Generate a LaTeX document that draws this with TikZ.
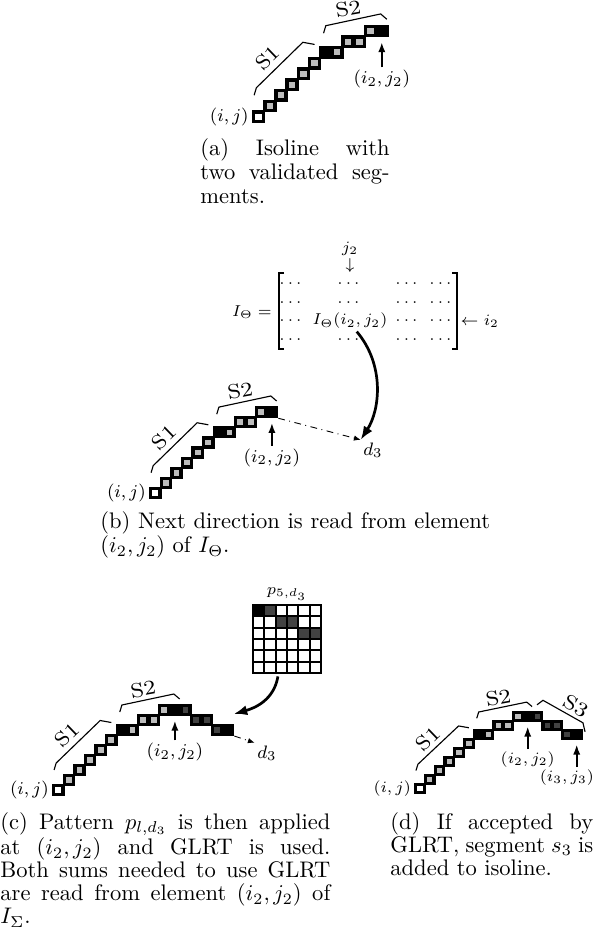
\documentclass[tikz,border=0pt]{standalone}
\usepackage{amsmath}
\usetikzlibrary{arrows.meta,positioning}

\colorlet{litecell}{black!26}
\colorlet{darkcell}{black!74}

% isoline with the two validated segments, in cell units
\newcommand\isobase{%
  \foreach \c/\r/\col in {0/0/white, 1/1/litecell, 2/2/litecell, 3/3/litecell,
      4/4/litecell, 5/5/litecell, 6/6/black, 7/6/litecell, 8/7/litecell,
      9/7/litecell, 10/8/litecell, 11/8/black}
    {\fill (\c-.1,\r-.1) rectangle ++(1.2,1.2);
     \fill[\col] (\c+.22,\r+.22) rectangle ++(.56,.56);}
  \draw[segline] (0.1,2.5) -- (0.3,3.2) -- (4.45,7.45) -- (5.5,7.25);
  \node[rotate=44, seglabel] (s1) at (1.3,6.0) {S1};
  \draw[segline] (6.3,8.3) -- (6.5,9) -- (11.4,10.1) -- (11.95,9.6);
  \node[rotate=10, seglabel] (s2) at (8.5,10.6) {S2};
  \node[anchor=east] (ij) at (-0.15,0.5) {$(i,j)$};
  \coordinate (c2) at (11.5,7.9);
}
% cells added by the pattern
\newcommand\isoext{%
  \foreach \c/\r/\col in {12/8/darkcell, 13/7/darkcell, 14/7/darkcell,
      15/6/darkcell, 16/6/black}
    {\fill (\c-.1,\r-.1) rectangle ++(1.2,1.2);
     \fill[\col] (\c+.22,\r+.22) rectangle ++(.56,.56);}
}

\begin{document}
\begin{tikzpicture}[
  x=0.444pt, y=-0.444pt,
  >=Latex,
  every node/.style={inner sep=1pt},
  caption/.style={anchor=north west, inner sep=0pt, align=justify,
                  font=\fontsize{10}{10.8}\selectfont},
  seglabel/.style={font=\small, xscale=1.15},
  segline/.style={line width=0.5pt},
  mtext/.style={font=\scriptsize},
  brk/.style={line width=0.6pt},
  uparrow/.style={-{Latex[length=4.5pt,width=3.2pt]}, line width=0.9pt,
                  shorten >=2pt},
  readarrow/.style={-{Latex[length=6pt,width=4.5pt]}, line width=1.2pt},
  nextdir/.style={-{Latex[length=3pt,width=2.4pt]}, dash dot, line width=0.4pt},
]
  \useasboundingbox (0,0) rectangle (595,934);

  % (a)
  \begin{scope}[shift={(253,122)}, x={(11.2,0)}, y={(0,-10.7)}, font=\footnotesize]
    \isobase
    \node (ij2a) at (11.5,4) {$(i_2,j_2)$};
    \draw[uparrow] (ij2a) -- (c2);
  \end{scope}
  \node[caption, text width=84pt] (capa) at (200,138)
    {(a) Isoline with\linebreak two validated seg-\linebreak ments.};

  % (b)
  \node[mtext] (ith) at (252,312) {$I_\Theta =$};
  \foreach \r/\y in {1/284,2/303,3/321,4/340}
    \foreach \c/\x in {1/292,2/350,3/408,4/442}
      {\ifnum\r\c=32 \else \node[mtext] (m\r\c) at (\x,\y) {$\cdots$};\fi}
  \node[mtext] (m32) at (350,321) {$I_\Theta(i_2,j_2)$};
  \draw[brk] (284,273) -- (279,273) -- (279,349) -- (284,349);
  \draw[brk] (452,273) -- (457,273) -- (457,349) -- (452,349);
  \node[mtext] (j2) at (350,249) {$j_2$};
  \node[mtext, below=-1pt of j2] (j2arr) {$\downarrow$};
  \node[mtext, anchor=west] (i2) at (458,321) {$\leftarrow i_2$};

  \begin{scope}[shift={(150,498)}, x={(10.6,0)}, y={(0,-10.1)}, font=\footnotesize]
    \isobase
    \node (ij2b) at (11.5,4) {$(i_2,j_2)$};
    \draw[uparrow] (ij2b) -- (c2);
    \coordinate (endb) at (12.1,7.9);
  \end{scope}
  \node[font=\footnotesize] (d3b) at (373,450) {$d_3$};
  \draw[nextdir] (endb) -- (d3b.north west);
  \draw[readarrow] ([xshift=3pt]m32.south) .. controls (385,365) and (380,410)
    .. (d3b.north west);
  \node[caption, text width=173pt] (capb) at (100,511)
    {(b) Next direction is read from element\linebreak $(i_2,j_2)$ of $I_\Theta$.};

  % (c)
  \begin{scope}[shift={(253,673)}, x={(11.33,0)}, y={(0,-11.33)}]
    \foreach \c/\r/\col in {0/5/black, 1/5/darkcell, 2/4/darkcell,
        3/4/darkcell, 4/3/darkcell, 5/3/darkcell}
      {\fill[\col] (\c,\r) rectangle ++(1,1);}
    \foreach \i in {0,...,6}
      {\draw[thick, line cap=rect] (\i,0) -- (\i,6);
       \draw[thick, line cap=rect] (0,\i) -- (6,\i);}
    \node[mtext, above=1pt] (pld) at (3,6) {$p_{5,d_3}$};
    \coordinate (patb) at (2.2,-0.3);
  \end{scope}

  \begin{scope}[shift={(53,795)}, x={(10.6,0)}, y={(0,-10)}, font=\footnotesize]
    \isobase
    \isoext
    \node (ij2c) at (11.5,4.3) {$(i_2,j_2)$};
    \draw[uparrow] (ij2c) -- (c2);
    \coordinate (endc) at (17.1,5.9);
    \coordinate (patend) at (17.05,8.1);
  \end{scope}
  \node[font=\footnotesize] (d3c) at (267,753) {$d_3$};
  \draw[nextdir] (endc) -- (d3c.north west);
  \draw[readarrow] (patb) .. controls (274,700) and (255,708) .. (patend);
  \node[caption, text width=146.5pt, font=\fontsize{10}{10.2}\selectfont]
    (capc) at (0,812)
    {(c) Pattern $p_{l,d_3}$ is then applied\linebreak at $(i_2,j_2)$ and GLRT
     is used.\linebreak Both sums needed to use GLRT\linebreak are read from
     element $(i_2,j_2)$ of\linebreak $I_\Sigma$.};

  % (d)
  \begin{scope}[shift={(415,793)}, x={(9.8,0)}, y={(0,-9)}, font=\scriptsize]
    \isobase
    \isoext
    \draw[segline] (12.45,9.8) -- (13.06,10.3) -- (17.14,7.8) -- (17.35,6.8);
    \node[rotate=-30, seglabel] (s3) at (16.4,9.7) {S3};
    \node (ij2d) at (11.5,3.7) {$(i_2,j_2)$};
    \draw[uparrow] (ij2d) -- (c2);
    \coordinate (c3) at (16.5,5.9);
    \node (ij3) at (15.5,1.7) {$(i_3,j_3)$};
    \draw[uparrow] (ij3.north -| c3) -- (c3);
  \end{scope}
  \node[caption, text width=90pt, font=\fontsize{10}{10.2}\selectfont]
    (capd) at (390,812)
    {(d) If accepted by\linebreak GLRT, segment $s_3$ is\linebreak added to isoline.};
\end{tikzpicture}
\end{document}
